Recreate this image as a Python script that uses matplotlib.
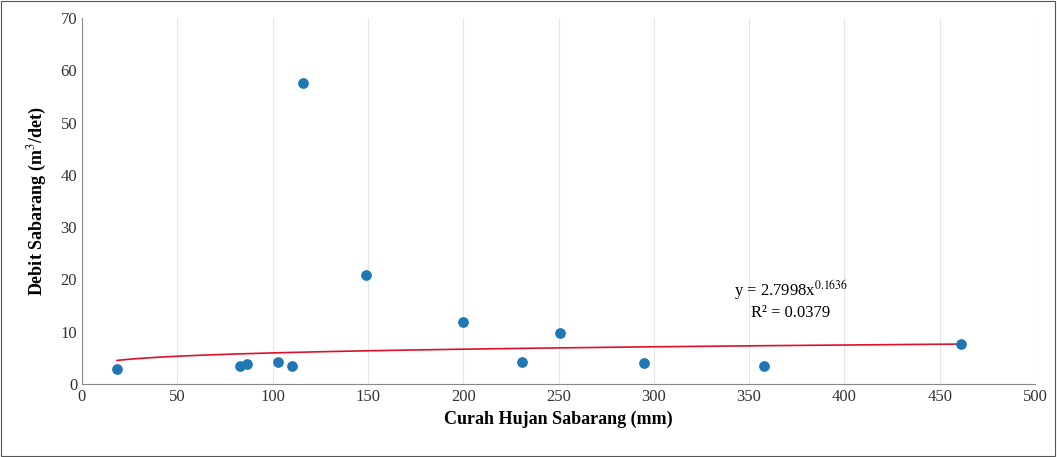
import numpy as np
import matplotlib.pyplot as plt

x = [18.4, 82.9, 86.6, 102.8, 110, 116, 149, 200, 231, 251, 295, 358, 461]
y = [2.9, 3.4, 3.8, 4.2, 3.4, 57.6, 20.8, 11.9, 4.2, 9.8, 4.0, 3.4, 7.6]
a, b = 2.7998, 0.1636

plt.rcParams['font.family'] = ['Liberation Serif', 'DejaVu Serif']
plt.rcParams['mathtext.fontset'] = 'stix'
fig = plt.figure(figsize=(10.57, 4.57), dpi=100)
ax = fig.add_axes([82/1057, 1-384/457, (1035-82)/1057, (384-18)/457])
fig.patches.append(plt.Rectangle((0.001, 0.002), 0.997, 0.996, transform=fig.transFigure,
                                 fill=False, edgecolor='#555555', lw=0.8))
xf = np.linspace(min(x), max(x), 200)
ax.plot(xf, a*xf**b, color='#e0102a', lw=1.2, zorder=2)
ax.scatter(x, y, s=45, color='#1f77b4', zorder=3)
ax.set_xlim(0, 500)
ax.set_ylim(0, 70)
ax.set_xticks(range(0, 501, 50))
ax.set_yticks(range(0, 71, 10))
ax.grid(axis='x', color='#e6e6e6', lw=0.8)
ax.set_axisbelow(True)
for s in ['top', 'right']:
    ax.spines[s].set_visible(False)
for s in ['left', 'bottom']:
    ax.spines[s].set_color('#888888')
ax.tick_params(labelsize=12, colors='#333333', length=0)
ax.set_xlabel('Curah Hujan Sabarang (mm)', fontsize=13, fontweight='bold', labelpad=4)
ax.set_ylabel('Debit Sabarang (m$^3$/det)', fontsize=13, fontweight='bold', labelpad=8)
ax.text(372, 12, 'y = 2.7998x$^{0.1636}$\nR² = 0.0379', fontsize=12, ha='center',
        va='bottom', linespacing=1.3)
fig.savefig('out.png', dpi=100)
